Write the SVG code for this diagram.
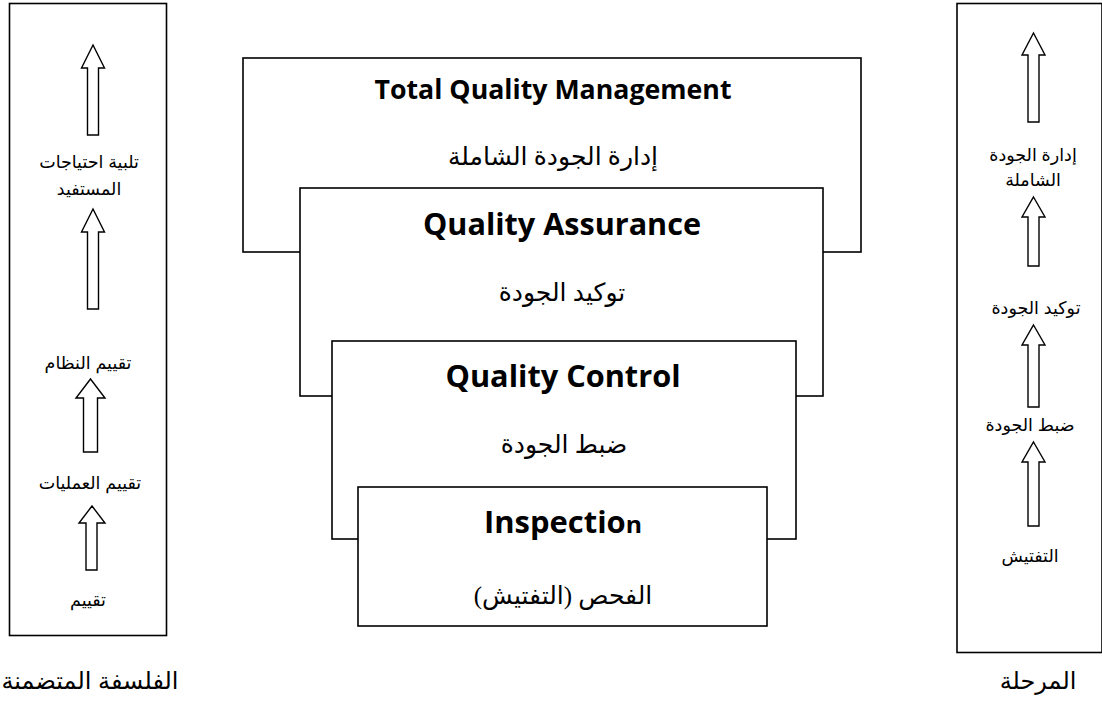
<svg xmlns="http://www.w3.org/2000/svg" width="1102" height="709" viewBox="0 0 1102 709">
<style>
.box{fill:#fff;stroke:#000;stroke-width:1.6}
.arr{fill:#fff;stroke:#000;stroke-width:1.4;stroke-linejoin:miter}
.en{font-family:"Open Sans","Noto Sans",sans-serif;font-weight:bold;fill:#000;text-anchor:middle}
.ar{font-family:"Liberation Serif","DejaVu Sans",serif;fill:#000;text-anchor:middle;direction:rtl;font-size:25px}
.sm{font-family:"Liberation Sans","DejaVu Sans",sans-serif;font-size:17.5px;fill:#000;text-anchor:middle;direction:rtl}
.lb{font-family:"Liberation Sans","DejaVu Sans",sans-serif;font-size:24px;fill:#000;text-anchor:middle;direction:rtl}
</style>
<rect width="1102" height="709" fill="#fff"/>
<g id="left-panel">
<rect class="box" x="9.5" y="3.5" width="157" height="632"/>
<text class="sm" x="89" y="168">تلبية احتياجات</text>
<text class="sm" x="89" y="195">المستفيد</text>
<text class="sm" x="88" y="369">تقييم النظام</text>
<text class="sm" x="90" y="489">تقييم العمليات</text>
<text class="sm" x="88" y="606">تقييم</text>
</g>
<g id="right-panel">
<rect class="box" x="957" y="3.5" width="145" height="649"/>
<text class="sm" x="1033" y="161">إدارة الجودة</text>
<text class="sm" x="1033" y="186">الشاملة</text>
<text class="sm" x="1036" y="314">توكيد الجودة</text>
<text class="sm" x="1030" y="431">ضبط الجودة</text>
<text class="sm" x="1030" y="562">التفتيش</text>
</g>
<g id="connectors">
<polygon class="arr" points="93,45 104.5,68 98.5,68 98.5,135 87.5,135 87.5,68 81.5,68"/>
<polygon class="arr" points="93,209 104.5,232 98.5,232 98.5,309 87.5,309 87.5,232 81.5,232"/>
<polygon class="arr" points="90.5,379 105,398 97.5,398 97.5,452 83.5,452 83.5,398 76,398"/>
<polygon class="arr" points="92,506 105,523 97,523 97,570 86,570 86,523 79,523"/>
<polygon class="arr" points="1033.5,33 1045,55 1039,55 1039,122 1028,122 1028,55 1022,55"/>
<polygon class="arr" points="1033.5,197 1045,217 1039,217 1039,266 1028,266 1028,217 1022,217"/>
<polygon class="arr" points="1033.5,325 1045,345 1039,345 1039,407 1028,407 1028,345 1022,345"/>
<polygon class="arr" points="1033.5,442 1045,462 1039,462 1039,526 1028,526 1028,462 1022,462"/>
</g>
<g id="tqm">
<rect class="box" x="243" y="58" width="618" height="194"/>
<text class="en" x="553" y="99" font-size="26" textLength="357" lengthAdjust="spacingAndGlyphs">Total Quality Management</text>
<text class="ar" x="553" y="165">إدارة الجودة الشاملة</text>
</g>
<g id="qa">
<rect class="box" x="300" y="188" width="523" height="208"/>
<text class="en" x="562" y="235" font-size="30" textLength="278" lengthAdjust="spacingAndGlyphs">Quality Assurance</text>
<text class="ar" x="562" y="301">توكيد الجودة</text>
</g>
<g id="qc">
<rect class="box" x="332" y="341" width="464" height="198"/>
<text class="en" x="563" y="387" font-size="30" textLength="235" lengthAdjust="spacingAndGlyphs">Quality Control</text>
<text class="ar" x="564" y="453">ضبط الجودة</text>
</g>
<g id="inspection">
<rect class="box" x="358" y="487" width="409" height="139"/>
<text class="en" x="563" y="533" font-size="30" textLength="158" lengthAdjust="spacingAndGlyphs">Inspectio<tspan font-size="24">n</tspan></text>
<text class="ar" x="563" y="604">الفحص (التفتيش)</text>
</g>
<g id="labels">
<text class="lb" x="90" y="689">الفلسفة المتضمنة</text>
<text class="lb" x="1038" y="689">المرحلة</text>
</g>
</svg>
